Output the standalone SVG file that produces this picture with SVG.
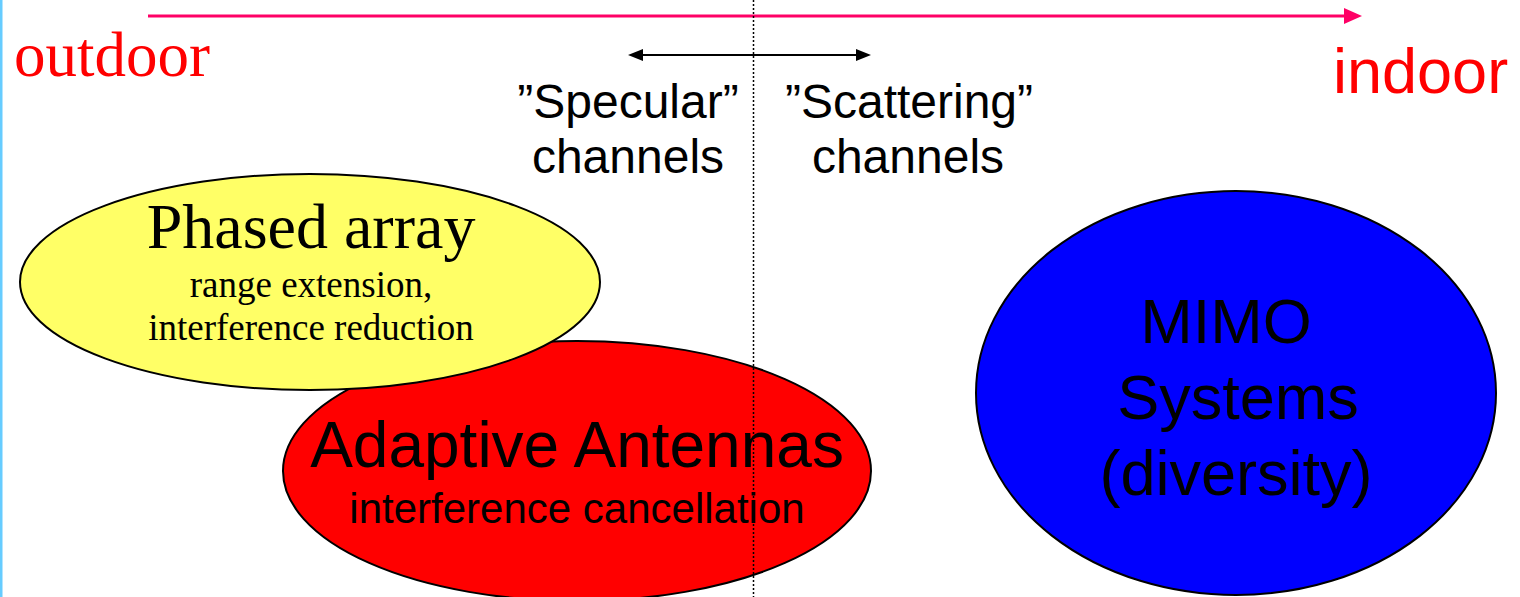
<svg xmlns="http://www.w3.org/2000/svg" width="1520" height="597" viewBox="0 0 1520 597">
<style>
.sans{font-family:"Liberation Sans",Arial,sans-serif;fill:#000}
.serif{font-family:"Liberation Serif","Times New Roman",serif;fill:#000}
.node{stroke:#000;stroke-width:2}
</style>
<rect x="0" y="0" width="1520" height="597" fill="#fff"/>
<rect x="0" y="0" width="2.5" height="597" fill="#66CCFF"/>
<g id="axis">
<line x1="148" y1="16" x2="1348" y2="16" stroke="#FF0066" stroke-width="3"/>
<polygon points="1344,8 1362,16 1344,24" fill="#FF0066"/>
<text x="14" y="76" class="serif" style="fill:#FF0000" font-size="63">outdoor</text>
<text x="1333" y="93" class="sans" style="fill:#FF0000" font-size="63">indoor</text>
</g>
<g id="node-red">
<ellipse class="node" cx="577" cy="471" rx="294" ry="130" fill="#FF0000"/>
<text x="577" y="467" class="sans" font-size="64" text-anchor="middle">Adaptive Antennas</text>
<text x="577" y="523" class="sans" font-size="42" text-anchor="middle">interference cancellation</text>
</g>
<g id="node-yellow">
<ellipse class="node" cx="310" cy="282" rx="290" ry="108" fill="#FFFF66"/>
<text x="311" y="248" class="serif" font-size="64" text-anchor="middle">Phased array</text>
<text x="311" y="297" class="serif" font-size="37" text-anchor="middle">range extension,</text>
<text x="311" y="340" class="serif" font-size="37" text-anchor="middle">interference reduction</text>
</g>
<g id="node-blue">
<ellipse class="node" cx="1236" cy="393" rx="260" ry="202" fill="#0000FF"/>
<text x="1226" y="343" class="sans" font-size="63" text-anchor="middle">MIMO</text>
<text x="1238" y="419" class="sans" font-size="63" text-anchor="middle">Systems</text>
<text x="1236" y="495" class="sans" font-size="63" text-anchor="middle">(diversity)</text>
</g>
<g id="channels">
<text x="628" y="118" class="sans" font-size="48" text-anchor="middle">”Specular”</text>
<text x="628" y="173" class="sans" font-size="48" text-anchor="middle">channels</text>
<text x="909" y="118" class="sans" font-size="48" text-anchor="middle">”Scattering”</text>
<text x="908" y="173" class="sans" font-size="48" text-anchor="middle">channels</text>
</g>
<g id="connectors">
<line x1="753.5" y1="0" x2="753.5" y2="597" stroke="#000" stroke-width="1.5" stroke-dasharray="2 2"/>
<line x1="640" y1="55" x2="858" y2="55" stroke="#000" stroke-width="2"/>
<polygon points="628,55 643,49 643,61" fill="#000"/>
<polygon points="871,55 856,49 856,61" fill="#000"/>
</g>
</svg>
